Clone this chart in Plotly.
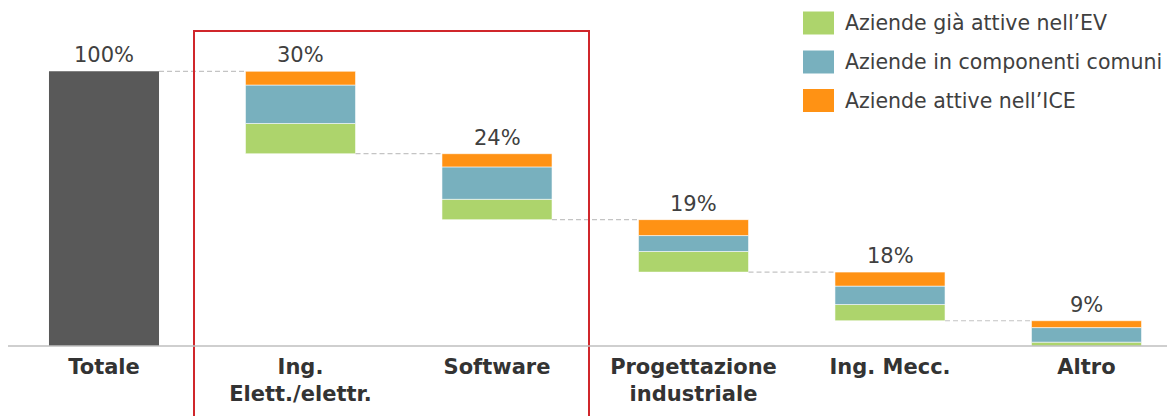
import numpy as np
import plotly.graph_objects as go

# ------------------------------------------------------------
# Dati
# ------------------------------------------------------------
categorie = ['Totale', 'Ing.<br>Elett./elettr.', 'Software',
             'Progettazione<br>industriale', 'Ing. Mecc.', 'Altro']
etichette = ['100%', '30%', '24%', '19%', '18%', '9%']
totale = 100.0
# segmenti per categoria (escluso Totale)
ev_attive = [11.0, 7.4, 7.5, 5.9, 1.5]      # Aziende già attive nell'EV
comp_comuni = [14.0, 11.8, 5.8, 6.7, 5.3]   # Aziende in componenti comuni
ice_attive = [5.0, 4.8, 5.8, 5.1, 2.5]      # Aziende attive nell'ICE

COL = {
    'tot': '#595959',
    'ev': '#add46c',
    'comp': '#78b0be',
    'ice': '#ff9214',
    'text': '#404040',
    'grid': '#c4c4c4',
    'red': '#d0262b',
}
FONT = 'DejaVu Sans, Verdana, sans-serif'

W, H = 1175, 416
OFF = 8  # margine del body nella pagina
ML, MR, MT, MB = 0, 0, 0, 78
PW, PH = W - ML - MR, H - MT - MB


def px(x):
    # pixel dello screenshot -> coordinate paper
    return (x - OFF - ML) / PW


def py(y):
    return 1 - (y - OFF - MT) / PH


n = len(ev_attive)
xs = np.arange(1, n + 1)
seg_tot = np.array(ev_attive) + np.array(comp_comuni) + np.array(ice_attive)
tops = totale - np.concatenate([[0], np.cumsum(seg_tot)[:-1]])
bottoms = tops - seg_tot
bw = 0.56

fig = go.Figure()

# connettori tratteggiati
levels = np.concatenate([[totale], bottoms[:-1]])
for i, lv in enumerate(levels):
    fig.add_trace(go.Scatter(
        x=[i + bw / 2, i + 1 - bw / 2], y=[lv, lv], mode='lines',
        line=dict(color=COL['grid'], width=1.2, dash='5px,3px'),
        showlegend=False, hoverinfo='skip',
    ))

fig.add_trace(go.Bar(
    x=[0], y=[totale], base=[0], width=bw,
    marker=dict(color=COL['tot'], line=dict(width=0)),
    showlegend=False,
))

base_ev = bottoms
base_comp = base_ev + np.array(ev_attive)
base_ice = base_comp + np.array(comp_comuni)
for vals, base, col, name in [
    (ev_attive, base_ev, COL['ev'], "Aziende già attive nell’EV"),
    (comp_comuni, base_comp, COL['comp'], 'Aziende in componenti comuni'),
    (ice_attive, base_ice, COL['ice'], "Aziende attive nell’ICE"),
]:
    fig.add_trace(go.Bar(
        x=xs, y=vals, base=base, width=bw, name=name,
        marker=dict(color=col, line=dict(width=0.8, color='rgba(255,255,255,0.7)')),
        showlegend=False,
    ))

# etichette valori
all_tops = np.concatenate([[totale], tops])
for i, (t, lab) in enumerate(zip(all_tops, etichette)):
    fig.add_annotation(x=i, y=t, text=lab, showarrow=False, yanchor='bottom',
                       yshift=2, font=dict(size=21, color=COL['text'], family=FONT))

# riquadro rosso
fig.add_shape(type='rect', xref='paper', yref='paper',
              x0=px(194), x1=px(589), y0=py(440), y1=py(31),
              line=dict(color=COL['red'], width=2), fillcolor='rgba(0,0,0,0)')

# legenda manuale
leg = [(COL['ev'], "Aziende già attive nell’EV", 23),
       (COL['comp'], 'Aziende in componenti comuni', 62),
       (COL['ice'], "Aziende attive nell’ICE", 100.5)]
for col, txt, cy in leg:
    fig.add_shape(type='rect', xref='paper', yref='paper',
                  x0=px(803), x1=px(834), y0=py(cy + 11.5), y1=py(cy - 11.5),
                  line=dict(width=0), fillcolor=col)
    fig.add_annotation(xref='paper', yref='paper', x=px(843), y=py(cy),
                       text=txt, showarrow=False, xanchor='left', yanchor='middle',
                       font=dict(size=20.5, color=COL['text'], family=FONT))

# scala: centro Totale a x=104, passo 196.5 px; base a y=346, 100% a y=71.3
x_lo = (OFF + ML - 104) / 196.5
x_hi = x_lo + PW / 196.5
y_hi = PH / ((346 - 71.3) / 100)

fig.update_xaxes(
    range=[x_lo, x_hi], tickmode='array', tickvals=list(range(n + 1)),
    ticktext=['<b>' + c.replace('<br>', '</b><br><b>') + '</b>' for c in categorie],
    tickfont=dict(size=21, color='#333333', family=FONT),
    ticklabelstandoff=6,
    showgrid=False, zeroline=False, showline=False, ticks='', automargin=False,
)
fig.update_yaxes(range=[0, y_hi], visible=False, showgrid=False, zeroline=False)

# asse orizzontale
fig.add_shape(type='line', xref='paper', yref='paper', x0=0, x1=1, y0=0, y1=0,
              line=dict(color='#bfbfbf', width=1.5))

fig.update_layout(
    width=W, height=H, barmode='overlay',
    paper_bgcolor='white', plot_bgcolor='white',
    margin=dict(l=ML, r=MR, t=MT, b=MB, pad=0),
    font=dict(family=FONT, color=COL['text']),
    showlegend=False,
)

fig.write_html('out.html')
